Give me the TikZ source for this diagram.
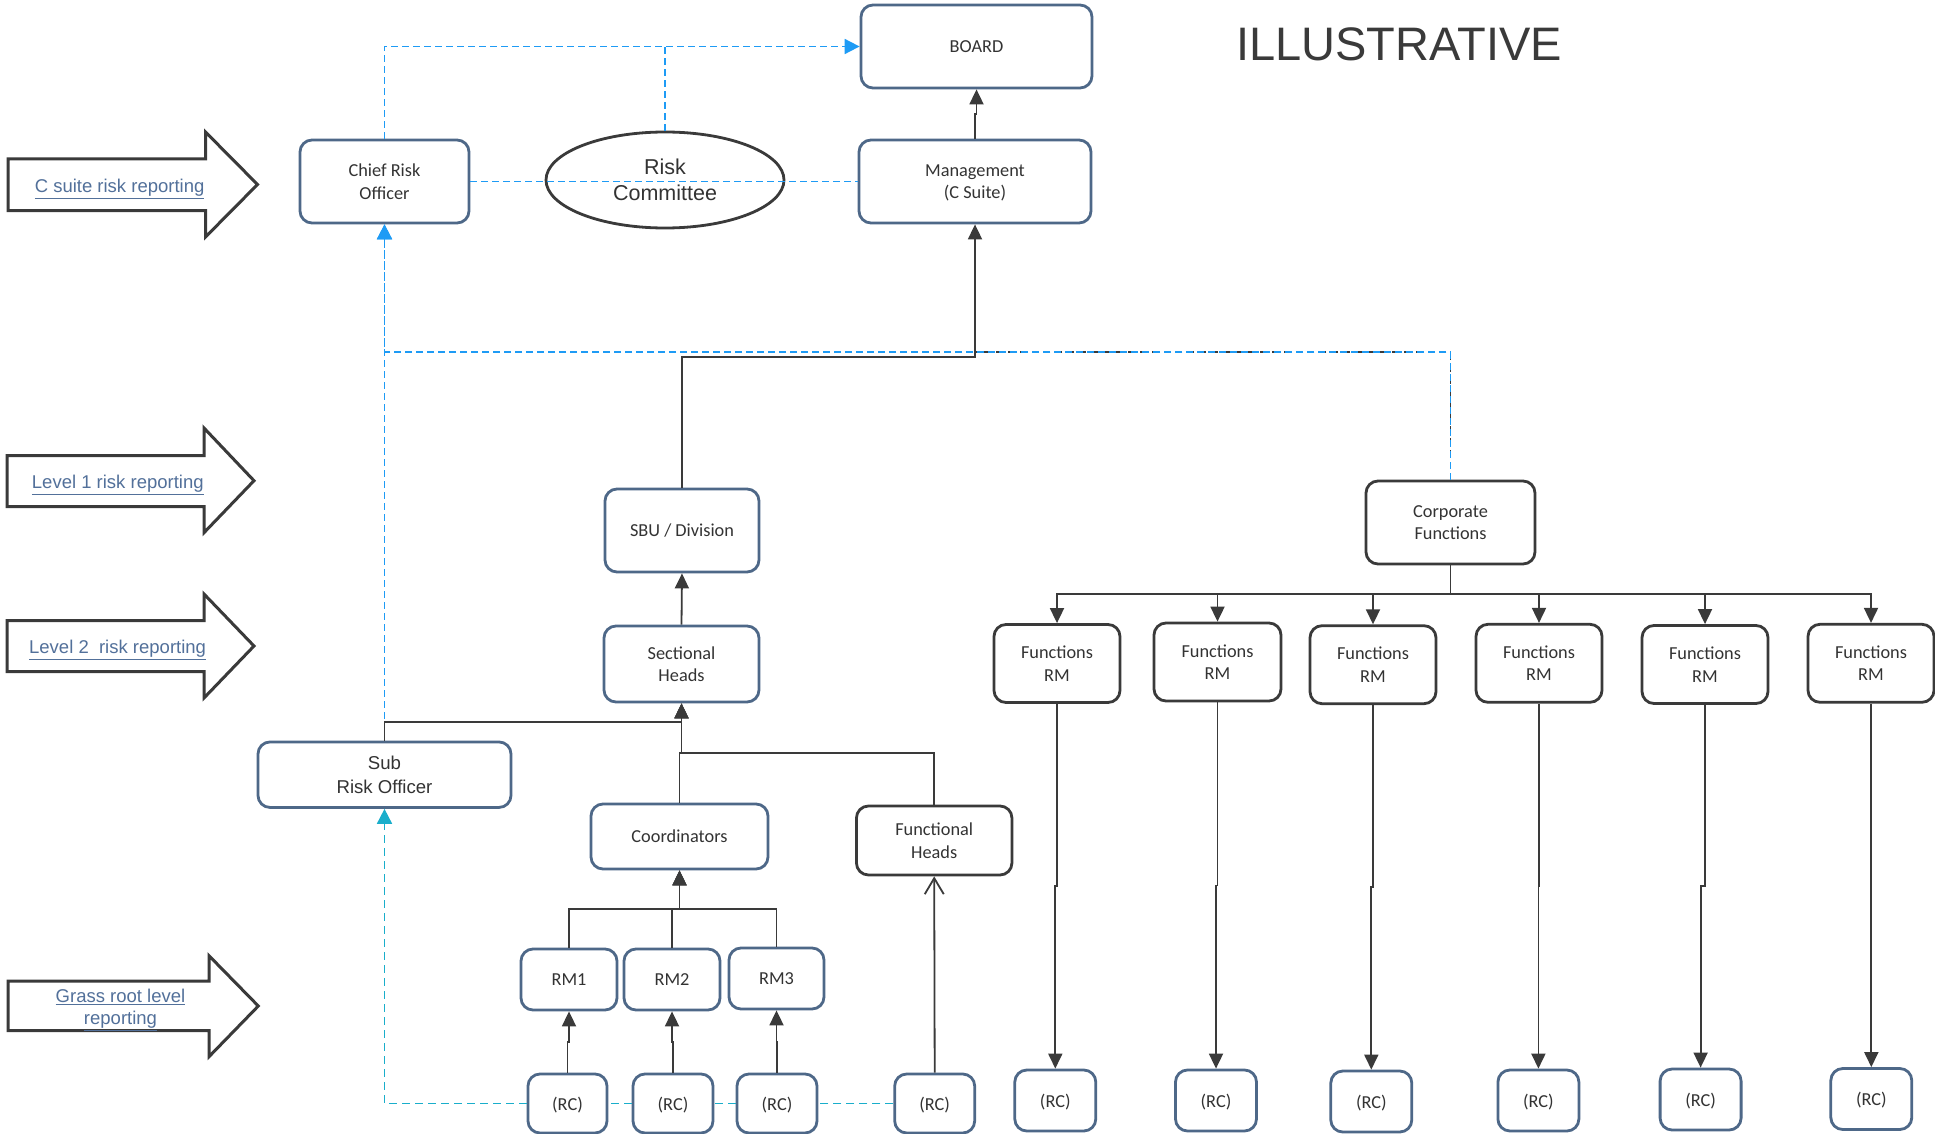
\documentclass[tikz,border=0pt]{standalone}
\usepackage{fontspec}
\setmainfont{Carlito}
\newfontfamily\arialf{Liberation Sans}
\usetikzlibrary{arrows.meta,calc,shapes.geometric}

\definecolor{slate}{HTML}{4E6888}
\definecolor{ink}{HTML}{3A3A3A}
\definecolor{txtgray}{HTML}{333333}
\definecolor{skyline}{HTML}{1E9BF5}
\definecolor{cyanline}{HTML}{1AAECB}
\definecolor{labelblue}{HTML}{52709A}

\newcommand\boxfont{\fontsize{18.3}{22.5}\selectfont}
\newcommand\lblfont{\arialf\fontsize{18.5}{22.3}\selectfont}

\tikzset{
  box/.style={draw=slate, line width=2.8pt, rounded corners=12pt, fill=white,
    align=center, text=txtgray, font=\boxfont, inner sep=0pt, text depth=0pt},
  darkbox/.style={box, draw=ink},
  conn/.style={draw=ink, line width=1.8pt},
  arr/.style={conn, -{Triangle[length=15pt,width=14pt]}},
  openarr/.style={conn, -{Straight Barb[length=16pt,width=19pt,line width=1.8pt]}},
  bluedash/.style={draw=skyline, line width=1.8pt, dash pattern=on 7pt off 4pt},
  bluearr/.style={bluedash, -{Triangle[length=15pt,width=15pt,fill=skyline]}},
  cyandash/.style={draw=cyanline, line width=1.8pt, dash pattern=on 8pt off 5pt},
  cyanarr/.style={cyandash, -{Triangle[length=15pt,width=15pt,fill=cyanline]}},
  darkdash/.style={draw=ink, line width=1.6pt, dash pattern=on 6pt off 6pt},
  blockarrow/.style={draw=ink, line width=3pt, fill=white, line join=miter},
  lvl/.style={font=\lblfont, text=labelblue, align=center, inner sep=0pt},
  jog/.style={to path={|- ($(\tikztostart)!.5!(\tikztotarget)$) -| (\tikztotarget) \tikztonodes}},
}

\begin{document}
\begin{tikzpicture}[x=1pt, y=-1pt]
\useasboundingbox (0,0) rectangle (1935,1134);
\clip (0,0) rectangle (1935,1134);
\fill[white] (0,0) rectangle (1935,1134);

% ---- reporting level arrows on the left
\draw[blockarrow] (8,159) -- (205.5,159) -- (205.5,132) -- (257.5,184.5)
  -- (205.5,237) -- (205.5,210.7) -- (8,210.7) -- cycle;
\node[lvl] (lvlC) at (119.6,189) {\underline{C suite risk reporting}};

\draw[blockarrow] (7,455.7) -- (204,455.7) -- (204,428) -- (254,480.7)
  -- (204,532.7) -- (204,506.7) -- (7,506.7) -- cycle;
\node[lvl] (lvl1) at (117.8,485) {\underline{Level 1 risk reporting}};

\draw[blockarrow] (7,620.7) -- (204,620.7) -- (204,594) -- (254,646)
  -- (204,698) -- (204,671.7) -- (7,671.7) -- cycle;
\node[lvl] (lvl2) at (117.6,650) {\underline{Level 2\ \ risk reporting}};

\draw[blockarrow] (8,981) -- (209,981) -- (209,955.7) -- (258.3,1006)
  -- (209,1056.7) -- (209,1030.7) -- (8,1030.7) -- cycle;
\node[lvl] (lvlG) at (120.5,1010) {\underline{Grass root level}\\\underline{reporting}};

% ---- title
\node[font=\arialf\fontsize{47}{50}\selectfont, text=ink, inner sep=0pt] (title) at (1399,44) {ILLUSTRATIVE};

% ---- top level
\node[box, minimum width=231pt, minimum height=83pt] (board) at (976.5,46.5) {BOARD};
\node[box, minimum width=169pt, minimum height=83pt] (cro) at (384.5,181.5) {Chief Risk\\Officer};
\node[box, minimum width=232pt, minimum height=83pt] (mgmt) at (975,181.5) {Management\\(C Suite)};
\node[ellipse, draw=ink, line width=2.8pt, minimum width=238pt, minimum height=96pt, inner sep=0pt,
  align=center, text=txtgray, font=\arialf\fontsize{21.5}{25.7}\selectfont] (rcom) at (665,180) {Risk\\Committee};

% ---- level 1
\node[box, minimum width=154pt, minimum height=83pt] (sbu) at (682,530.5) {SBU / Division};
\node[darkbox, minimum width=169pt, minimum height=83pt] (cf) at (1450.5,522.5) {Corporate\\Functions};

% ---- level 2
\node[box, minimum width=155pt, minimum height=76pt] (sh) at (681.5,664) {Sectional\\Heads};
\node[darkbox, minimum width=126pt, minimum height=78pt] (f1) at (1057,663.5) {Functions\\RM};
\node[darkbox, minimum width=127pt, minimum height=78pt] (f2) at (1217.5,662) {Functions\\RM};
\node[darkbox, minimum width=126pt, minimum height=78pt] (f3) at (1373,664.7) {Functions\\RM};
\node[darkbox, minimum width=126pt, minimum height=78pt] (f4) at (1539,663.3) {Functions\\RM};
\node[darkbox, minimum width=126pt, minimum height=78pt] (f5) at (1705,664.5) {Functions\\RM};
\node[darkbox, minimum width=126pt, minimum height=78pt] (f6) at (1871,663.3) {Functions\\RM};

% ---- sub level
\node[box, minimum width=253pt, minimum height=65.5pt, font=\arialf\fontsize{18.6}{23.3}\selectfont]
  (sro) at (384.5,774.7) {Sub\\Risk Officer};
\node[box, minimum width=177pt, minimum height=65pt] (coord) at (679.5,836.5) {Coordinators};
\node[darkbox, minimum width=155.5pt, minimum height=69pt] (fh) at (934.2,840.5) {Functional\\Heads};
\node[box, minimum width=96pt, minimum height=61pt] (rm1) at (569,979.5) {RM1};
\node[box, minimum width=96pt, minimum height=61pt] (rm2) at (672,979.5) {RM2};
\node[box, minimum width=95pt, minimum height=61pt] (rm3) at (776.5,978.5) {RM3};

% ---- grass roots risk champions
\node[box, minimum width=79pt, minimum height=59pt] (rc1) at (567.5,1103.5) {(RC)};
\node[box, minimum width=80pt, minimum height=59pt] (rc2) at (673,1103.5) {(RC)};
\node[box, minimum width=80pt, minimum height=59pt] (rc3) at (777,1103.5) {(RC)};
\node[box, minimum width=80pt, minimum height=59pt] (rc4) at (934.7,1103.5) {(RC)};
\node[box, minimum width=81pt, minimum height=61pt] (r1) at (1055.3,1100.5) {(RC)};
\node[box, minimum width=81pt, minimum height=61pt] (r2) at (1216,1100.5) {(RC)};
\node[box, minimum width=81pt, minimum height=61pt] (r3) at (1371.3,1101.5) {(RC)};
\node[box, minimum width=81pt, minimum height=61pt] (r4) at (1538.4,1100.5) {(RC)};
\node[box, minimum width=81pt, minimum height=61pt] (r5) at (1700.6,1099.5) {(RC)};
\node[box, minimum width=81pt, minimum height=61pt] (r6) at (1871.3,1099) {(RC)};

% ---- bus heights
\coordinate (riskbus) at (0,352);
\coordinate (mgmtbus) at (0,356.7);
\coordinate (cfbus) at (0,594);
\coordinate (srobus) at (0,721.7);
\coordinate (coordbus) at (0,753.3);
\coordinate (rmbus) at (0,908.7);

% ---- risk reporting lines (dashed)
\draw[darkdash] (cf.north) -- (cf.north |- riskbus) -- (mgmt.south |- riskbus);
\draw[bluearr] (cro.north) |- (board.west);
\draw[bluedash] (rcom.north) -- (rcom.north |- board.west);
\draw[bluedash] (cro.east) -- (mgmt.west);
\draw[bluearr] (sro.north) -- (cro.south);
\draw[bluearr] (cf.north) -- (cf.north |- riskbus) -| (cro.south);
\draw[cyandash] (rc4.west) -- (rc3.east);
\draw[cyandash] (rc3.west) -- (rc2.east);
\draw[cyandash] (rc2.west) -- (rc1.east);
\draw[cyanarr] (rc1.west) -| (sro.south);

% ---- line management reporting
\draw[arr] (mgmt.north) to[jog] (board.south);
\draw[arr] (sbu.north) -- (sbu.north |- mgmtbus) -| (mgmt.south);
\draw[arr] (sh.north) -- (sbu.south);
\draw[arr] (sro.north) -- (sro.north |- srobus) -| (sh.south);
\draw[arr] (coord.north) -- (coord.north |- coordbus) -| (sh.south);
\draw[arr] (fh.north) -- (fh.north |- coordbus) -| (sh.south);
\foreach \r in {rm1,rm2,rm3}
  \draw[arr] (\r.north) -- (\r.north |- rmbus) -| (coord.south);
\draw[arr] (rc1.north) to[jog] (rm1.south);
\draw[arr] (rc2.north) to[jog] (rm2.south);
\draw[arr] (rc3.north) to[jog] (rm3.south);
\draw[openarr] (rc4.north) -- (fh.south);

% ---- corporate functions
\foreach \f in {f1,f2,f3,f4,f5,f6}
  \draw[arr] (cf.south) -- (cf.south |- cfbus) -| (\f.north);
\foreach \f/\r in {f1/r1,f2/r2,f3/r3,f4/r4,f5/r5,f6/r6}
  \draw[arr] (\f.south) to[jog] (\r.north);
\end{tikzpicture}
\end{document}
